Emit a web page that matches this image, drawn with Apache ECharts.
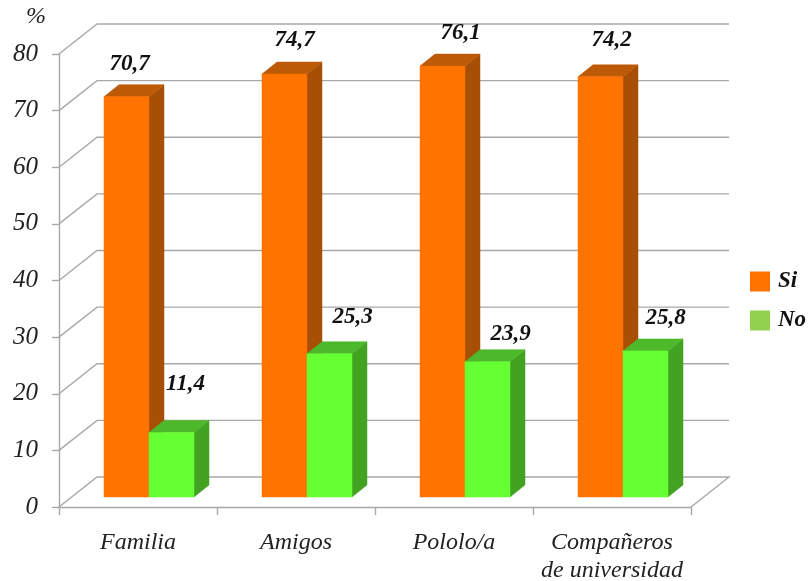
<!DOCTYPE html>
<html>
<head>
<meta charset="utf-8">
<style>html,body{margin:0;padding:0;background:#fff}#chart{width:809px;height:581px}</style>
<script src="https://cdn.jsdelivr.net/npm/echarts@6/dist/echarts.min.js"></script>
</head>
<body>
<div id="chart"></div>
<script>
// Survey shares per group, in percent
const categories = ['Familia', 'Amigos', 'Pololo/a', 'Compañeros\nde universidad'];
const siValues = [70.7, 74.7, 76.1, 74.2];
const noValues = [11.4, 25.3, 23.9, 25.8];
const valueTicks = [0, 10, 20, 30, 40, 50, 60, 70, 80];

// Pseudo-3D projection, in pixels
const WALL = { dx: 38, dy: -30 };   // depth of floor and side wall
const BAR_SHIFT = { dx: 11, dy: -10 }; // bars stand partway into the floor
const BAR_DEPTH = { dx: 15, dy: -12 };
const BAR_WIDTH = 45;

const SERIF = '"Liberation Serif", "Times New Roman", serif';
const GRID_COLOR = '#a8a8a8';

// Hand-placed value labels: offset from the top of each bar's front face
const siLabelOffsets = [[3, -33], [10, -34], [18, -33], [11, -37]];
const noLabelOffsets = [[14, -48], [23, -37], [23, -28], [20, -33]];

function poly(points, fill) {
  return { type: 'polygon', shape: { points }, style: { fill, stroke: fill, lineWidth: 0.5 } };
}

// One side of a category band: front, top and side faces plus the value label
function barRenderer(side, colors, offsets) {
  return function (params, api) {
    const idx = api.value(0);
    const val = api.value(1);
    const centre = api.coord([idx, 0])[0];
    const top = api.coord([idx, val])[1] + BAR_SHIFT.dy;
    const base = api.coord([idx, 0])[1] + BAR_SHIFT.dy;
    const x0 = centre + BAR_SHIFT.dx + (side < 0 ? -BAR_WIDTH : 0);
    const x1 = x0 + BAR_WIDTH;
    const d = BAR_DEPTH;
    const off = offsets[idx];
    return {
      type: 'group',
      children: [
        poly([[x1, top], [x1 + d.dx, top + d.dy], [x1 + d.dx, base + d.dy], [x1, base]], colors.side),
        poly([[x0, top], [x0 + d.dx, top + d.dy], [x1 + d.dx, top + d.dy], [x1, top]], colors.top),
        poly([[x0, top], [x1, top], [x1, base], [x0, base]], colors.front),
        {
          type: 'text',
          style: {
            x: (x0 + x1) / 2 + off[0],
            y: top + off[1],
            text: String(val).replace('.', ','),
            fontFamily: SERIF, fontSize: 23, fontStyle: 'italic', fontWeight: 'bold',
            fill: '#111', align: 'center', verticalAlign: 'middle'
          }
        }
      ]
    };
  };
}

// Back wall line for a value: diagonal from the y axis, then across to the far edge
function wallRenderer(params, api) {
  const cs = params.coordSys;
  const y = api.coord([0, api.value(0)])[1];
  const left = cs.x, right = cs.x + cs.width;
  const points = [[left, y], [left + WALL.dx, y + WALL.dy], [right + WALL.dx, y + WALL.dy]];
  if (api.value(0) === 0) points.push([right, y]);
  return {
    type: 'polyline',
    shape: { points },
    style: { fill: 'none', stroke: GRID_COLOR, lineWidth: 1.4 }
  };
}

const chart = echarts.init(document.getElementById('chart'), null, { renderer: 'canvas' });
chart.setOption({
  animation: false,
  backgroundColor: '#fff',
  grid: { left: 59, right: 118, top: 54, bottom: 74, outerBoundsMode: 'none' },
  legend: {
    orient: 'vertical', left: 745, top: 265,
    itemWidth: 20, itemHeight: 20, itemGap: 16,
    data: [{ name: 'Si', icon: 'rect' }, { name: 'No', icon: 'rect' }],
    textStyle: { fontFamily: SERIF, fontSize: 23, fontStyle: 'italic', fontWeight: 'bold', color: '#111', padding: [0, 0, 0, 3] }
  },
  xAxis: {
    type: 'category',
    data: categories,
    axisLine: { lineStyle: { color: GRID_COLOR, width: 1.4 } },
    axisTick: { show: true, alignWithLabel: false, length: 8, lineStyle: { color: GRID_COLOR, width: 1.4 } },
    axisLabel: { interval: 0, margin: 22, fontFamily: SERIF, fontSize: 24, fontStyle: 'italic', color: '#222', lineHeight: 28 }
  },
  yAxis: {
    type: 'value', min: 0, max: 80, interval: 10,
    name: '%',
    nameGap: 25,
    nameTextStyle: { fontFamily: SERIF, fontSize: 24, fontStyle: 'italic', color: '#222', align: 'right', padding: [0, 13, 0, 0] },
    axisLine: { show: true, lineStyle: { color: GRID_COLOR, width: 1.4 } },
    axisTick: { show: true, length: 7, lineStyle: { color: GRID_COLOR, width: 1.4 } },
    axisLabel: { margin: 21, fontFamily: SERIF, fontSize: 25, fontStyle: 'italic', color: '#222' },
    splitLine: { show: false }
  },
  series: [
    {
      type: 'custom', name: 'Pared', silent: true, z: 1,
      renderItem: wallRenderer,
      data: valueTicks.map(v => [v]),
      encode: { y: 0 }
    },
    {
      type: 'custom', name: 'Si', z: 2,
      itemStyle: { color: '#ff7300' },
      renderItem: barRenderer(-1, { front: '#ff7300', top: '#bd5a08', side: '#a64f05' }, siLabelOffsets),
      data: siValues.map((v, i) => [i, v]),
      encode: { x: 0, y: 1 }
    },
    {
      type: 'custom', name: 'No', z: 3,
      itemStyle: { color: '#92d050' },
      renderItem: barRenderer(1, { front: '#66ff33', top: '#4db82a', side: '#42a322' }, noLabelOffsets),
      data: noValues.map((v, i) => [i, v]),
      encode: { x: 0, y: 1 }
    }
  ]
});
</script>
</body>
</html>
